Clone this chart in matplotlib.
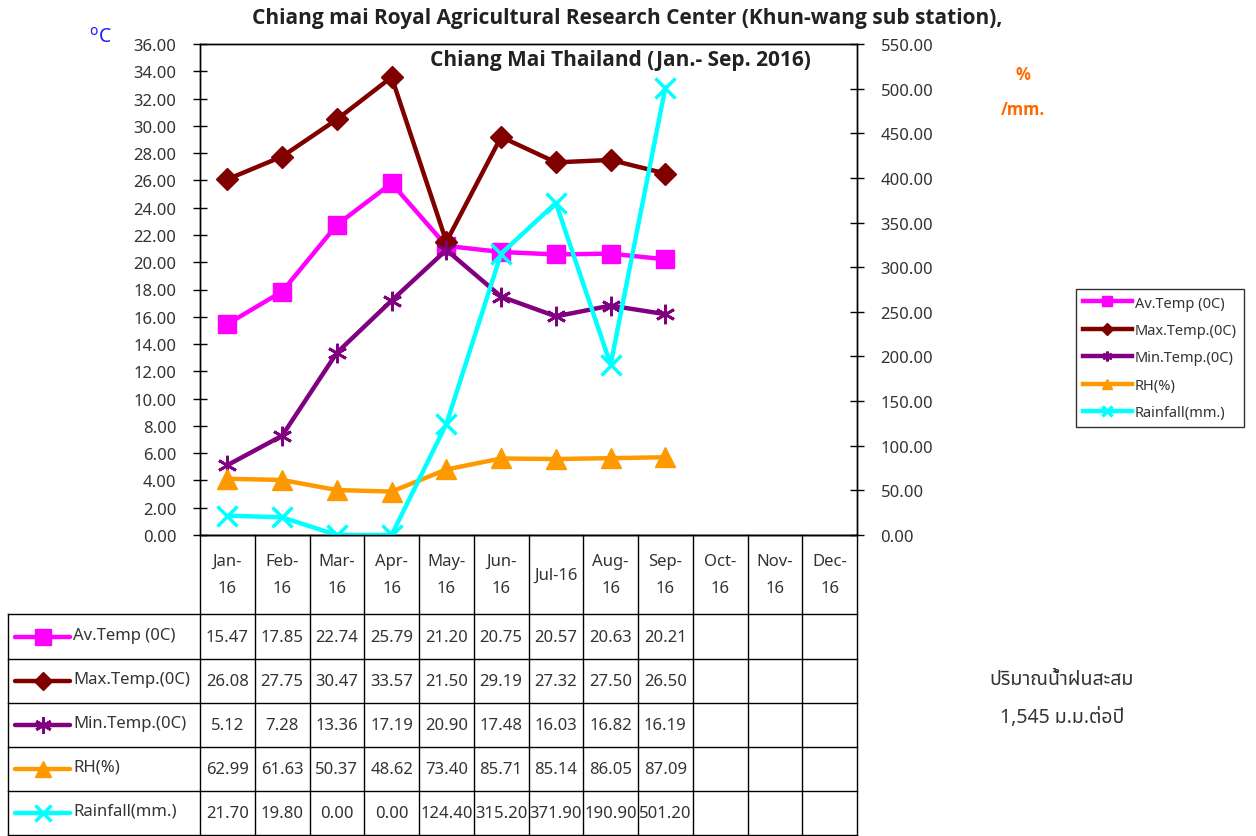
import matplotlib
matplotlib.use("Agg")
import matplotlib.pyplot as plt
import matplotlib.transforms as mtransforms

plt.rcParams['font.family'] = ['Noto Sans', 'DejaVu Sans']

months = ["Jan-\n16", "Feb-\n16", "Mar-\n16", "Apr-\n16", "May-\n16", "Jun-\n16",
          "Jul-16", "Aug-\n16", "Sep-\n16", "Oct-\n16", "Nov-\n16", "Dec-\n16"]
av_temp = [15.47, 17.85, 22.74, 25.79, 21.20, 20.75, 20.57, 20.63, 20.21]
max_temp = [26.08, 27.75, 30.47, 33.57, 21.50, 29.19, 27.32, 27.50, 26.50]
min_temp = [5.12, 7.28, 13.36, 17.19, 20.90, 17.48, 16.03, 16.82, 16.19]
rh = [62.99, 61.63, 50.37, 48.62, 73.40, 85.71, 85.14, 86.05, 87.09]
rain = [21.70, 19.80, 0.00, 0.00, 124.40, 315.20, 371.90, 190.90, 501.20]
series_names = ["Av.Temp (0C)", "Max.Temp.(0C)", "Min.Temp.(0C)", "RH(%)", "Rainfall(mm.)"]
left_ticks = [0, 2, 4, 6, 8, 10, 12, 14, 16, 18, 20, 22, 24, 26, 28, 30, 32, 34, 36]
right_ticks = [0, 50, 100, 150, 200, 250, 300, 350, 400, 450, 500, 550]

W, H = 1256, 837
fig = plt.figure(figsize=(W / 100, H / 100), dpi=100)

def fx(px):
    return px / W

def fy(py):
    return 1 - py / H

BOLD = ['Open Sans', 'Lato', 'DejaVu Sans']

x0, x1, ytop, ybot = 200, 857, 45, 536
ax = fig.add_axes([fx(x0), fy(ybot), fx(x1) - fx(x0), fy(ytop) - fy(ybot)])
ax2 = ax.twinx()
ax.set_xlim(-0.5, 11.5)
ax.set_ylim(0, 36)
ax2.set_ylim(0, 550)
ax.set_xticks([])
ax.set_yticks(left_ticks)
ax.set_yticklabels([f"{v:.2f}" for v in left_ticks])
ax2.set_yticks(right_ticks)
ax2.set_yticklabels([f"{v:.2f}" for v in right_ticks])
for a in (ax, ax2):
    a.tick_params(axis='y', direction='inout', length=10, width=1, pad=12,
                  labelsize=12, labelcolor='#333333', color='black')
    for s in a.spines.values():
        s.set_color('black')
        s.set_linewidth(1)
ax.patch.set_visible(False)

cols = {'av': '#FF00FF', 'mx': '#800000', 'mn': '#800080', 'rh': '#FF9900', 'rain': '#00FFFF'}
xs = list(range(len(av_temp)))
lw = 3.2
l1, = ax.plot(xs, av_temp, color=cols['av'], lw=lw, marker='s', ms=13.5, label=series_names[0], zorder=3)
l2, = ax.plot(xs, max_temp, color=cols['mx'], lw=lw, marker='D', ms=11.5, label=series_names[1], zorder=3)
l3, = ax.plot(xs, min_temp, color=cols['mn'], lw=lw, marker=(6, 2, 0), ms=14, mew=2,
              label=series_names[2], zorder=3)
l4, = ax2.plot(xs, rh, color=cols['rh'], lw=lw, marker='^', ms=14.5, label=series_names[3], zorder=3)
l5, = ax2.plot(xs, rain, color=cols['rain'], lw=lw, marker='x', ms=14, mew=2.5,
               label=series_names[4], zorder=4)

leg = fig.legend(handles=[l1, l2, l3, l4, l5], loc='upper left',
                 bbox_to_anchor=(fx(1076), fy(290)), fontsize=10.5, frameon=True,
                 fancybox=False, edgecolor='black', handlelength=3.4, markerscale=0.5,
                 borderpad=0.45, labelspacing=0.85, handletextpad=0.2, borderaxespad=0)
leg.get_frame().set_linewidth(1)
for t in leg.get_texts():
    t.set_color('#333333')

# overlay in pixel coordinates for table and annotations
ov = fig.add_axes([0, 0, 1, 1], zorder=5)
ov.set_xlim(0, W)
ov.set_ylim(H, 0)
ov.axis('off')
ov.patch.set_visible(False)
bt = mtransforms.blended_transform_factory(ax.transData, ov.transData)

# table grid
row_y = [536, 615, 660, 704, 748, 792, 836]
for i, y in enumerate(row_y):
    xl = 200 if i == 0 else 8
    ov.plot([xl, 857], [y, y], color='black', lw=1, zorder=1)
ov.plot([8, 8], [615, 836], color='black', lw=1)
for k in range(13):
    ov.plot([k - 0.5, k - 0.5], [536, 836], color='black', lw=1, transform=bt)

# header
for k, m in enumerate(months):
    ov.text(k, 575.5, m, transform=bt, ha='center', va='center', fontsize=12,
            color='#333333', linespacing=1.95)

# rows
data_rows = [av_temp, max_temp, min_temp, rh, rain]
markers = [('s', 11, 1), ('D', 9, 1), ((6, 2, 0), 12, 2), ('^', 12, 1), ('x', 12, 2.5)]
colors = [cols['av'], cols['mx'], cols['mn'], cols['rh'], cols['rain']]
for r, vals in enumerate(data_rows):
    yc = (row_y[r + 1] + row_y[r + 2]) / 2
    ov.plot([15, 70], [yc, yc], color=colors[r], lw=3.2, solid_capstyle='round')
    mk, ms, mew = markers[r]
    ov.plot([42.5], [yc], color=colors[r], marker=mk, ms=ms, mew=mew, ls='none')
    ov.text(73, yc - 2, series_names[r], ha='left', va='center', fontsize=12, color='#333333')
    for k, v in enumerate(vals):
        ov.text(k, yc, f"{v:.2f}", transform=bt, ha='center', va='center',
                fontsize=12, color='#333333')

# titles and labels
ov.text(627, 18, "Chiang mai Royal Agricultural Research Center (Khun-wang sub station),",
        ha='center', va='center', fontsize=15, fontweight='bold', color='#222222', family=BOLD)
ov.text(620, 60, "Chiang Mai Thailand (Jan.- Sep. 2016)",
        ha='center', va='center', fontsize=15, fontweight='bold', color='#222222', family=BOLD)
ov.text(100, 38, "$^{\\mathrm{o}}$C", ha='center', va='center', fontsize=14, color='#1F1FFF')
ov.text(1023, 75, "%", ha='center', va='center', fontsize=12, fontweight='bold',
        color='#FF6A00', family=BOLD)
ov.text(1023, 110, "/mm.", ha='center', va='center', fontsize=12, fontweight='bold',
        color='#FF6A00', family=BOLD)
ov.text(1062, 680, "ปริมาณน้ำฝนสะสม", ha='center', va='center', fontsize=14, color='#333333',
        family=['Noto Sans Thai', 'Noto Sans', 'DejaVu Sans'])
ov.text(1062, 718, "1,545 ม.ม.ต่อปี", ha='center', va='center', fontsize=14, color='#333333',
        family=['Noto Sans Thai', 'Noto Sans', 'DejaVu Sans'])

fig.savefig("out.png", dpi=100)
